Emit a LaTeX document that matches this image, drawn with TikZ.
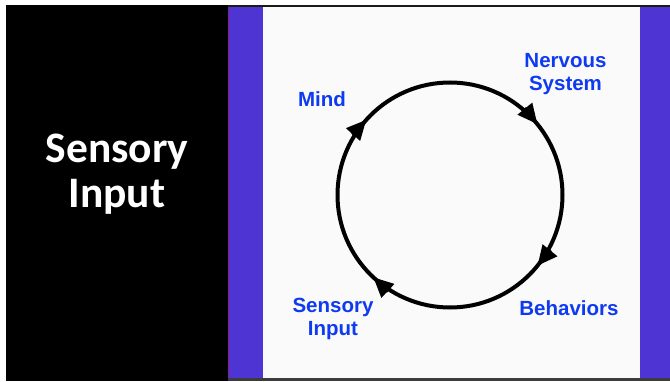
\documentclass[tikz,border=0pt]{standalone}
\usepackage{fontspec}
\setmainfont{Liberation Sans}
\newfontfamily\titlefont{Carlito}
\usetikzlibrary{arrows.meta}
\definecolor{panelpurple}{RGB}{78,53,211}
\definecolor{labelblue}{RGB}{14,58,242}
\definecolor{paper}{RGB}{250,250,250}
\definecolor{edgemagenta}{RGB}{140,32,130}
\definecolor{framedark}{RGB}{26,26,26}
\definecolor{framegray}{RGB}{60,60,60}
\begin{document}
\begin{tikzpicture}[x=1pt,y=1pt,
  lbl/.style={text=labelblue, font=\fontsize{20.5}{23}\selectfont\bfseries, align=center, inner sep=0pt},
  titlestyle/.style={text=white, font=\titlefont\fontsize{43.5}{45}\selectfont\bfseries, align=center, inner sep=0pt},
  ring/.style={line width=4pt},
  cyc/.style={line width=4pt, -{Triangle[length=20pt,width=18pt]}}]
% background and panels
\useasboundingbox (0,0) rectangle (670,381);
\fill[white] (0,0) rectangle (670,381);
\fill[black] (6,0) rectangle (228,376);
\fill[framedark] (228,373.5) rectangle (670,376);
\fill[framegray] (228,0) rectangle (670,3);
\fill[paper] (263,3) rectangle (640,373.5);
\fill[panelpurple] (228,3) rectangle (263,373.5);
\fill[panelpurple] (640,3) rectangle (670,373.5);
\fill[edgemagenta] (228,3) rectangle (229.4,373.5);
% title
\node[titlestyle, anchor=north] (title) at (117,247) {Sensory\\Input};
% cycle
\coordinate (c) at (450,186);
\draw[ring] (c) circle[radius=112.5];
\path (c) ++(138:112.5) coordinate (pMind);
\path (c) ++(39:112.5) coordinate (pNerv);
\path (c) ++(-39:112.5) coordinate (pBeh);
\path (c) ++(227:112.5) coordinate (pSens);
\path (pMind) ++(228:20.5) coordinate (bMind);
\path (pNerv) ++(129:20.5) coordinate (bNerv);
\path (pBeh) ++(51:20.5) coordinate (bBeh);
\path (pSens) ++(317:20.5) coordinate (bSens);
\draw[cyc] (bMind) -- (pMind);
\draw[cyc] (bNerv) -- (pNerv);
\draw[cyc] (bBeh) -- (pBeh);
\draw[cyc] (bSens) -- (pSens);
% labels
\node[lbl, anchor=base] (mind) at (322,274) {Mind};
\node[lbl, anchor=north] (nerv) at (565.5,328) {Nervous\\System};
\node[lbl, anchor=north] (sens) at (333,83.5) {Sensory\\Input};
\node[lbl, anchor=base] (beh) at (569,65.5) {Behaviors};
\end{tikzpicture}
\end{document}
